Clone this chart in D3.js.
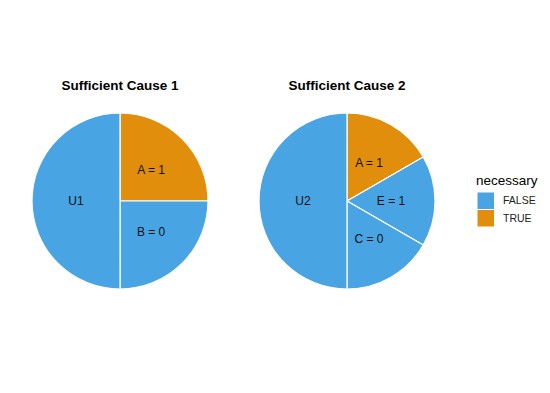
<!DOCTYPE html>
<html>
<head>
<meta charset="utf-8">
<script src="https://cdn.jsdelivr.net/npm/d3@7"></script>
<style>
  body { margin: 0; background: #fff; }
  svg { font-family: 'Liberation Sans', Arial, sans-serif; }
</style>
</head>
<body>
<script>
// data
const cause1Labels = ['A = 1', 'B = 0', 'U1'];
const cause1Values = [1, 1, 2];
const cause1Necessary = ['TRUE', 'FALSE', 'FALSE'];

const cause2Labels = ['A = 1', 'E = 1', 'C = 0', 'U2'];
const cause2Values = [1, 1, 1, 3];
const cause2Necessary = ['TRUE', 'FALSE', 'FALSE', 'FALSE'];

const titles = ['Sufficient Cause 1', 'Sufficient Cause 2'];
const legendKeys = ['FALSE', 'TRUE'];

const width = 550;
const height = 393;
const radius = 88;
const centersX = [120, 347];
const centerY = 201;

const color = d3.scaleOrdinal().domain(legendKeys).range(['#49A4E3', '#E08E0B']);

const svg = d3.select('body').append('svg').attr('width', width).attr('height', height);

const pies = [
	cause1Labels.map((l, i) => ({ label: l, value: cause1Values[i], necessary: cause1Necessary[i] })),
	cause2Labels.map((l, i) => ({ label: l, value: cause2Values[i], necessary: cause2Necessary[i] }))
];

const pie = d3.pie().sort(null).value((d) => d.value);
const arc = d3.arc().innerRadius(0).outerRadius(radius);
const labelArc = d3.arc().innerRadius(radius / 2).outerRadius(radius / 2);

pies.forEach((rows, k) => {
	const g = svg.append('g').attr('transform', `translate(${centersX[k]}, ${centerY})`);

	g.selectAll('path')
		.data(pie(rows))
		.enter()
		.append('path')
		.attr('d', arc)
		.attr('fill', (d) => color(d.data.necessary))
		.attr('stroke', '#fff')
		.attr('stroke-width', 1.2);

	g.selectAll('text.lbl')
		.data(pie(rows))
		.enter()
		.append('text')
		.attr('class', 'lbl')
		.attr('transform', (d) => `translate(${labelArc.centroid(d)})`)
		.attr('text-anchor', 'middle')
		.attr('dy', '0.35em')
		.attr('font-size', 12)
		.attr('fill', '#111')
		.text((d) => d.data.label);

	svg.append('text')
		.attr('x', centersX[k])
		.attr('y', 90)
		.attr('text-anchor', 'middle')
		.attr('font-size', 13.5)
		.attr('font-weight', 'bold')
		.text(titles[k]);
});

// legend
const legend = svg.append('g').attr('transform', 'translate(476, 0)');
legend.append('text').attr('x', 0).attr('y', 185).attr('font-size', 13.5).text('necessary');

const keyY = d3.scaleBand().domain(legendKeys).range([192, 227]);

legend.selectAll('rect')
	.data(legendKeys)
	.enter()
	.append('rect')
	.attr('x', 1.5)
	.attr('y', (d) => keyY(d) + 0.5)
	.attr('width', 16.5)
	.attr('height', 16.5)
	.attr('fill', (d) => color(d));

legend.selectAll('text.key')
	.data(legendKeys)
	.enter()
	.append('text')
	.attr('class', 'key')
	.attr('x', 27)
	.attr('y', (d) => keyY(d) + keyY.bandwidth() / 2)
	.attr('dy', '0.35em')
	.attr('font-size', 10.5)
	.attr('fill', '#222')
	.text((d) => d);
</script>
</body>
</html>
